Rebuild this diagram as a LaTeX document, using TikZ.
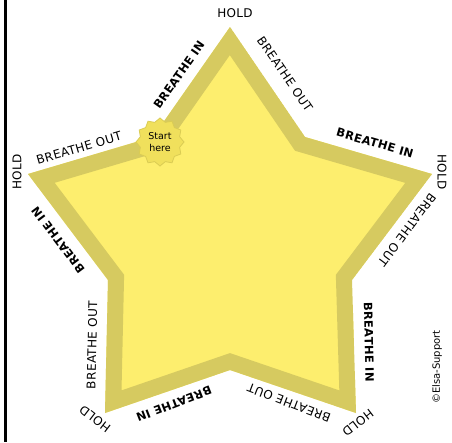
\documentclass[tikz,border=0pt]{standalone}
\usepackage{fontspec}
\setmainfont{DejaVu Sans}
\newfontfamily\lblfont[LetterSpace=3]{DejaVu Sans}
\newfontfamily\inlblfont[LetterSpace=3]{DejaVu Sans Bold}
\usetikzlibrary{shapes.geometric}
\definecolor{bandcol}{RGB}{214,202,96}
\definecolor{fillcol}{RGB}{253,238,110}
\definecolor{burstcol}{RGB}{240,224,92}
\definecolor{burstline}{RGB}{218,204,84}
\tikzset{
  lbl/.style={inner sep=0pt, font=\lblfont\fontsize{12}{14}\selectfont},
  inlbl/.style={inner sep=0pt, font=\inlblfont\fontsize{11.5}{14}\selectfont},
  holdlbl/.style={inner sep=0pt, font=\lblfont\fontsize{12}{14}\selectfont},
  copylbl/.style={inner sep=0pt, font=\fontsize{10}{12}\selectfont},
  burst/.style={star, star points=12, star point ratio=1.18, minimum size=48pt,
    inner sep=0pt, fill=burstcol, draw=burstline, line width=0.8pt},
  bursttext/.style={inner sep=0pt, align=center, font=\fontsize{9.5}{12}\selectfont}
}
\begin{document}
\begin{tikzpicture}[x=1pt,y=-1pt]
\useasboundingbox (0,0) rectangle (452,442);
\fill[white] (0,0) rectangle (452,442);
% left border
\draw[black, line width=3pt] (5,0) -- (5,442);
% star vertices
\coordinate (T) at (230,27);
\coordinate (IRT) at (305,137);
\coordinate (R) at (432,174);
\coordinate (IRB) at (352,280);
\coordinate (BR) at (356,413);
\coordinate (IB) at (230,370);
\coordinate (BL) at (105,413);
\coordinate (ILB) at (108,280);
\coordinate (L) at (28,174);
\coordinate (ILT) at (153,137);
\begin{scope}
  \clip (T) -- (IRT) -- (R) -- (IRB) -- (BR) -- (IB) -- (BL) -- (ILB) -- (L) -- (ILT) -- cycle;
  \fill[fillcol] (T) -- (IRT) -- (R) -- (IRB) -- (BR) -- (IB) -- (BL) -- (ILB) -- (L) -- (ILT) -- cycle;
  \draw[bandcol, line width=32pt, line join=miter, miter limit=10]
    (T) -- (IRT) -- (R) -- (IRB) -- (BR) -- (IB) -- (BL) -- (ILB) -- (L) -- (ILT) -- cycle;
\end{scope}
% edge labels
\node[lbl, rotate=-55.5] (e1) at (285,74) {BREATHE OUT};
\node[inlbl, rotate=-16.2] (e2) at (375,143) {BREATHE IN};
\node[lbl, rotate=-126.7] (e3) at (407,230) {BREATHE OUT};
\node[inlbl, rotate=-88.7] (e4) at (369,342) {BREATHE IN};
\node[lbl, rotate=159.1] (e5) at (289,403) {BREATHE OUT};
\node[inlbl, rotate=-158.8] (e6) at (174,404) {BREATHE IN};
\node[lbl, rotate=88.7] (e7) at (92,345) {BREATHE OUT};
\node[inlbl, rotate=127] (e8) at (58,240) {BREATHE IN};
\node[lbl, rotate=16.2] (e9) at (79,148) {BREATHE OUT};
\node[inlbl, rotate=55] (e10) at (179,75) {BREATHE IN};
% hold labels
\node[holdlbl] (h1) at (235,13) {HOLD};
\node[holdlbl, rotate=-90] (h2) at (442,172) {HOLD};
\node[holdlbl, rotate=-142.5] (h3) at (358,423) {HOLD};
\node[holdlbl, rotate=142.5] (h4) at (95,419) {HOLD};
\node[holdlbl, rotate=90] (h5) at (17,172) {HOLD};
% start badge
\node[burst] (start) at (160,142) {};
\node[bursttext] (starttext) at (start.center) {Start\\here};
% copyright
\node[copylbl, rotate=90] (copy) at (437,367) {©Elsa-Support};
\end{tikzpicture}
\end{document}
